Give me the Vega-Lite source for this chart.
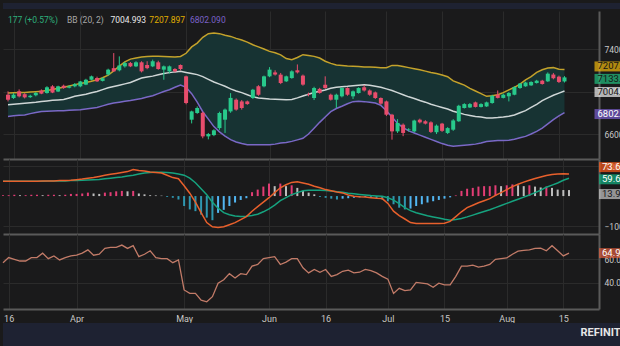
{
"$schema": "https://vega.github.io/schema/vega-lite/v6.json",
"background": "#1a1a1b",
"padding": 0,
"spacing": 0,
"config": {
  "view": {"stroke": null},
  "axis": {"labelFont": "Roboto", "labelColor": "#c8c8c8", "labelFontSize": 8.5, "gridColor": "#2b2b2b", "gridWidth": 1, "domainColor": "#5a5a5a", "tickColor": "#5a5a5a", "labelOverlap": false},
  "text": {"font": "Roboto"}
},
"datasets": {
"d": [
{"t":0,"o":6970,"h":7002,"l":6907,"c":6923,"bu":6986,"bm":6876,"bl":6766,"macd":50,"sig":50,"hist":2,"rsi":56.9},
{"t":1,"o":6939,"h":6986,"l":6930,"c":6970,"bu":6988,"bm":6880,"bl":6772,"macd":50,"sig":50,"hist":2,"rsi":61.2},
{"t":2,"o":7002,"h":7020,"l":6945,"c":6955,"bu":6990,"bm":6885,"bl":6776,"macd":50,"sig":50,"hist":3,"rsi":59.7},
{"t":3,"o":6975,"h":6985,"l":6935,"c":6945,"bu":6992,"bm":6890,"bl":6780,"macd":50,"sig":50,"hist":2,"rsi":58.3},
{"t":4,"o":6947,"h":6970,"l":6940,"c":6960,"bu":6995,"bm":6895,"bl":6792,"macd":50,"sig":50,"hist":2,"rsi":58.3},
{"t":5,"o":6965,"h":6995,"l":6955,"c":6986,"bu":6998,"bm":6900,"bl":6803,"macd":50,"sig":50,"hist":3,"rsi":61.2},
{"t":6,"o":7010,"h":7020,"l":6975,"c":6980,"bu":7002,"bm":6907,"bl":6813,"macd":50,"sig":50,"hist":3,"rsi":61.2},
{"t":7,"o":6986,"h":7050,"l":6980,"c":7040,"bu":7010,"bm":6912,"bl":6815,"macd":51,"sig":50,"hist":2,"rsi":64.9},
{"t":8,"o":7049,"h":7060,"l":6985,"c":6990,"bu":7020,"bm":6917,"bl":6817,"macd":51,"sig":51,"hist":3,"rsi":60.3},
{"t":9,"o":7000,"h":7055,"l":6995,"c":7049,"bu":7030,"bm":6921,"bl":6819,"macd":51,"sig":51,"hist":3,"rsi":62.6},
{"t":10,"o":7055,"h":7065,"l":7025,"c":7033,"bu":7040,"bm":6925,"bl":6820,"macd":52,"sig":51,"hist":2,"rsi":59.2},
{"t":11,"o":7036,"h":7058,"l":7030,"c":7049,"bu":7052,"bm":6940,"bl":6823,"macd":52,"sig":51,"hist":3,"rsi":61.2},
{"t":12,"o":7049,"h":7080,"l":7040,"c":7070,"bu":7065,"bm":6955,"bl":6826,"macd":53,"sig":52,"hist":5,"rsi":62.6},
{"t":13,"o":7049,"h":7100,"l":7040,"c":7095,"bu":7075,"bm":6965,"bl":6829,"macd":55,"sig":52,"hist":5,"rsi":63.2},
{"t":14,"o":7065,"h":7120,"l":7060,"c":7111,"bu":7085,"bm":6975,"bl":6836,"macd":57,"sig":53,"hist":6,"rsi":64.9},
{"t":15,"o":7111,"h":7150,"l":7105,"c":7143,"bu":7097,"bm":6988,"bl":6843,"macd":60,"sig":54,"hist":8,"rsi":67.7},
{"t":16,"o":7127,"h":7140,"l":7090,"c":7096,"bu":7110,"bm":7000,"bl":6850,"macd":62,"sig":55,"hist":6,"rsi":63.2},
{"t":17,"o":7100,"h":7135,"l":7095,"c":7125,"bu":7130,"bm":7018,"bl":6865,"macd":66,"sig":56,"hist":5,"rsi":64.0},
{"t":18,"o":7160,"h":7215,"l":7150,"c":7206,"bu":7155,"bm":7035,"bl":6880,"macd":70,"sig":58,"hist":8,"rsi":68.9},
{"t":19,"o":7220,"h":7362,"l":7185,"c":7190,"bu":7195,"bm":7048,"bl":6892,"macd":73,"sig":60,"hist":9,"rsi":69.7},
{"t":20,"o":7200,"h":7331,"l":7190,"c":7245,"bu":7240,"bm":7060,"bl":6900,"macd":76,"sig":62,"hist":11,"rsi":69.7},
{"t":21,"o":7237,"h":7280,"l":7225,"c":7268,"bu":7280,"bm":7072,"bl":6908,"macd":79,"sig":64,"hist":12,"rsi":71.7},
{"t":22,"o":7268,"h":7278,"l":7230,"c":7237,"bu":7305,"bm":7085,"bl":6915,"macd":82,"sig":67,"hist":11,"rsi":68.9},
{"t":23,"o":7237,"h":7285,"l":7230,"c":7275,"bu":7315,"bm":7106,"bl":6925,"macd":89,"sig":70,"hist":12,"rsi":71.2},
{"t":24,"o":7275,"h":7285,"l":7180,"c":7190,"bu":7325,"bm":7127,"bl":6935,"macd":86,"sig":74,"hist":6,"rsi":62.0},
{"t":25,"o":7250,"h":7285,"l":7210,"c":7220,"bu":7330,"bm":7136,"bl":6948,"macd":84,"sig":77,"hist":4,"rsi":64.0},
{"t":26,"o":7237,"h":7300,"l":7230,"c":7285,"bu":7331,"bm":7145,"bl":6960,"macd":81,"sig":79,"hist":2,"rsi":66.9},
{"t":27,"o":7275,"h":7290,"l":7205,"c":7212,"bu":7331,"bm":7158,"bl":6980,"macd":79,"sig":80,"hist":1.5,"rsi":61.2},
{"t":28,"o":7206,"h":7245,"l":7111,"c":7237,"bu":7330,"bm":7170,"bl":7000,"macd":77,"sig":80,"hist":1,"rsi":60.3},
{"t":29,"o":7190,"h":7245,"l":7170,"c":7237,"bu":7328,"bm":7178,"bl":7017,"macd":70,"sig":79,"hist":-2,"rsi":60.3},
{"t":30,"o":7212,"h":7220,"l":7180,"c":7190,"bu":7325,"bm":7185,"bl":7040,"macd":62,"sig":77,"hist":-4,"rsi":56.9},
{"t":31,"o":7250,"h":7255,"l":7200,"c":7212,"bu":7330,"bm":7190,"bl":7060,"macd":58,"sig":74,"hist":-8,"rsi":59.2},
{"t":32,"o":7143,"h":7150,"l":6880,"c":6892,"bu":7360,"bm":7180,"bl":7040,"macd":35,"sig":70,"hist":-23,"rsi":34.0},
{"t":33,"o":6735,"h":6820,"l":6700,"c":6813,"bu":7420,"bm":7170,"bl":6980,"macd":10,"sig":60,"hist":-31,"rsi":31.1},
{"t":34,"o":6798,"h":6860,"l":6790,"c":6845,"bu":7456,"bm":7159,"bl":6900,"macd":-20,"sig":45,"hist":-35,"rsi":31.1},
{"t":35,"o":6800,"h":6810,"l":6560,"c":6578,"bu":7510,"bm":7140,"bl":6810,"macd":-55,"sig":25,"hist":-43,"rsi":25.4},
{"t":36,"o":6578,"h":6610,"l":6550,"c":6600,"bu":7545,"bm":7115,"bl":6740,"macd":-88,"sig":5,"hist":-50,"rsi":24.0},
{"t":37,"o":6590,"h":6645,"l":6580,"c":6635,"bu":7550,"bm":7090,"bl":6670,"macd":-102,"sig":-20,"hist":-56,"rsi":28.3},
{"t":38,"o":6656,"h":6810,"l":6640,"c":6798,"bu":7545,"bm":7070,"bl":6620,"macd":-104,"sig":-40,"hist":-39,"rsi":39.7},
{"t":39,"o":6735,"h":6840,"l":6610,"c":6830,"bu":7530,"bm":7050,"bl":6580,"macd":-102,"sig":-55,"hist":-32,"rsi":42.6},
{"t":40,"o":6813,"h":6985,"l":6800,"c":6940,"bu":7519,"bm":7025,"bl":6547,"macd":-95,"sig":-62,"hist":-23,"rsi":47.7},
{"t":41,"o":6923,"h":6935,"l":6820,"c":6830,"bu":7500,"bm":7005,"bl":6525,"macd":-88,"sig":-66,"hist":-15,"rsi":44.0},
{"t":42,"o":6907,"h":6920,"l":6830,"c":6845,"bu":7485,"bm":6990,"bl":6510,"macd":-78,"sig":-68,"hist":-9,"rsi":47.7},
{"t":43,"o":6907,"h":6915,"l":6875,"c":6882,"bu":7465,"bm":6970,"bl":6500,"macd":-68,"sig":-67,"hist":-5,"rsi":46.9},
{"t":44,"o":6939,"h":7025,"l":6930,"c":7017,"bu":7440,"bm":6950,"bl":6500,"macd":-50,"sig":-64,"hist":9,"rsi":54.0},
{"t":45,"o":7049,"h":7060,"l":6960,"c":6970,"bu":7420,"bm":6940,"bl":6500,"macd":-35,"sig":-60,"hist":15,"rsi":55.4},
{"t":46,"o":7049,"h":7150,"l":7040,"c":7143,"bu":7400,"bm":6935,"bl":6500,"macd":-20,"sig":-52,"hist":22,"rsi":60.3},
{"t":47,"o":7143,"h":7230,"l":7135,"c":7206,"bu":7378,"bm":6930,"bl":6500,"macd":-5,"sig":-42,"hist":29,"rsi":61.2},
{"t":48,"o":7180,"h":7200,"l":7150,"c":7160,"bu":7365,"bm":6928,"bl":6505,"macd":12,"sig":-30,"hist":23,"rsi":62.0},
{"t":49,"o":7159,"h":7175,"l":7070,"c":7080,"bu":7345,"bm":6925,"bl":6515,"macd":28,"sig":-15,"hist":29,"rsi":55.4},
{"t":50,"o":7096,"h":7150,"l":7090,"c":7143,"bu":7310,"bm":6923,"bl":6520,"macd":38,"sig":-5,"hist":23,"rsi":57.4},
{"t":51,"o":7127,"h":7200,"l":7120,"c":7190,"bu":7300,"bm":6925,"bl":6531,"macd":46,"sig":5,"hist":25,"rsi":60.3},
{"t":52,"o":7200,"h":7255,"l":7170,"c":7180,"bu":7320,"bm":6940,"bl":6545,"macd":48,"sig":12,"hist":19,"rsi":60.3},
{"t":53,"o":7150,"h":7160,"l":7055,"c":7065,"bu":7347,"bm":6958,"bl":6560,"macd":44,"sig":18,"hist":12,"rsi":52.6},
{"t":54,"o":6975,"h":6990,"l":6955,"c":6970,"bu":7340,"bm":6975,"bl":6600,"macd":40,"sig":20,"hist":8,"rsi":48.3},
{"t":55,"o":6939,"h":7045,"l":6920,"c":7033,"bu":7331,"bm":6990,"bl":6655,"macd":33,"sig":20,"hist":4,"rsi":51.2},
{"t":56,"o":7025,"h":7035,"l":6980,"c":6986,"bu":7315,"bm":7002,"bl":6710,"macd":28,"sig":20,"hist":-2,"rsi":48.9},
{"t":57,"o":7064,"h":7143,"l":7025,"c":7033,"bu":7285,"bm":7015,"bl":6760,"macd":22,"sig":19,"hist":-4,"rsi":51.2},
{"t":58,"o":6970,"h":6980,"l":6915,"c":6923,"bu":7265,"bm":7030,"bl":6810,"macd":18,"sig":17,"hist":-6,"rsi":45.4},
{"t":59,"o":6923,"h":6980,"l":6845,"c":6970,"bu":7250,"bm":7040,"bl":6840,"macd":14,"sig":15,"hist":-8,"rsi":46.9},
{"t":60,"o":6955,"h":7040,"l":6945,"c":7033,"bu":7245,"bm":7045,"bl":6861,"macd":11,"sig":13,"hist":-6,"rsi":49.7},
{"t":61,"o":7033,"h":7040,"l":6960,"c":6970,"bu":7240,"bm":7049,"bl":6885,"macd":4,"sig":10,"hist":-5,"rsi":50.6},
{"t":62,"o":6955,"h":7010,"l":6930,"c":7002,"bu":7237,"bm":7055,"bl":6905,"macd":0,"sig":8,"hist":-4,"rsi":48.3},
{"t":63,"o":6986,"h":7040,"l":6980,"c":7033,"bu":7235,"bm":7060,"bl":6908,"macd":-2,"sig":6,"hist":-3,"rsi":48.9},
{"t":64,"o":7040,"h":7060,"l":7000,"c":7010,"bu":7232,"bm":7064,"bl":6905,"macd":-3,"sig":4,"hist":-2,"rsi":51.2},
{"t":65,"o":7010,"h":7020,"l":6960,"c":6970,"bu":7230,"bm":7060,"bl":6900,"macd":-5,"sig":2,"hist":-4,"rsi":50.3},
{"t":66,"o":6992,"h":7000,"l":6930,"c":6939,"bu":7228,"bm":7050,"bl":6892,"macd":-7,"sig":1,"hist":-6,"rsi":48.3},
{"t":67,"o":6939,"h":6945,"l":6875,"c":6886,"bu":7225,"bm":7040,"bl":6870,"macd":-8,"sig":0,"hist":-8,"rsi":45.4},
{"t":68,"o":6907,"h":6915,"l":6770,"c":6782,"bu":7225,"bm":7025,"bl":6820,"macd":-24,"sig":-5,"hist":-12,"rsi":43.1},
{"t":69,"o":6782,"h":6790,"l":6547,"c":6625,"bu":7246,"bm":7010,"bl":6760,"macd":-50,"sig":-13,"hist":-19,"rsi":31.1},
{"t":70,"o":6625,"h":6740,"l":6610,"c":6704,"bu":7245,"bm":6990,"bl":6700,"macd":-65,"sig":-25,"hist":-27,"rsi":35.4},
{"t":71,"o":6688,"h":6700,"l":6580,"c":6610,"bu":7235,"bm":6970,"bl":6660,"macd":-76,"sig":-38,"hist":-31,"rsi":33.4},
{"t":72,"o":6640,"h":6655,"l":6625,"c":6645,"bu":7225,"bm":6950,"bl":6630,"macd":-88,"sig":-48,"hist":-29,"rsi":34.0},
{"t":73,"o":6625,"h":6735,"l":6615,"c":6727,"bu":7215,"bm":6935,"bl":6610,"macd":-91,"sig":-55,"hist":-23,"rsi":40.3},
{"t":74,"o":6735,"h":6745,"l":6700,"c":6710,"bu":7205,"bm":6915,"bl":6590,"macd":-91,"sig":-60,"hist":-19,"rsi":39.7},
{"t":75,"o":6720,"h":6730,"l":6690,"c":6698,"bu":7192,"bm":6900,"bl":6570,"macd":-91,"sig":-65,"hist":-15,"rsi":39.1},
{"t":76,"o":6710,"h":6720,"l":6610,"c":6620,"bu":7180,"bm":6880,"bl":6550,"macd":-91,"sig":-69,"hist":-12,"rsi":36.3},
{"t":77,"o":6617,"h":6690,"l":6600,"c":6679,"bu":7170,"bm":6865,"bl":6530,"macd":-91,"sig":-73,"hist":-9,"rsi":39.7},
{"t":78,"o":6698,"h":6705,"l":6620,"c":6630,"bu":7155,"bm":6850,"bl":6510,"macd":-90,"sig":-77,"hist":-6,"rsi":38.3},
{"t":79,"o":6610,"h":6665,"l":6600,"c":6656,"bu":7140,"bm":6835,"bl":6495,"macd":-84,"sig":-80,"hist":-3,"rsi":38.3},
{"t":80,"o":6641,"h":6740,"l":6630,"c":6728,"bu":7100,"bm":6815,"bl":6485,"macd":-68,"sig":-78,"hist":1.5,"rsi":45.4},
{"t":81,"o":6720,"h":6875,"l":6715,"c":6866,"bu":7080,"bm":6800,"bl":6490,"macd":-52,"sig":-74,"hist":12,"rsi":54.0},
{"t":82,"o":6845,"h":6890,"l":6840,"c":6882,"bu":7060,"bm":6785,"bl":6495,"macd":-38,"sig":-69,"hist":17,"rsi":54.0},
{"t":83,"o":6850,"h":6892,"l":6845,"c":6882,"bu":7030,"bm":6775,"bl":6500,"macd":-30,"sig":-63,"hist":19,"rsi":54.9},
{"t":84,"o":6898,"h":6905,"l":6850,"c":6855,"bu":7005,"bm":6765,"bl":6505,"macd":-22,"sig":-57,"hist":22,"rsi":53.2},
{"t":85,"o":6855,"h":6890,"l":6850,"c":6882,"bu":6980,"bm":6760,"bl":6515,"macd":-15,"sig":-51,"hist":23,"rsi":54.0},
{"t":86,"o":6860,"h":6905,"l":6855,"c":6898,"bu":6955,"bm":6752,"bl":6530,"macd":-8,"sig":-45,"hist":23,"rsi":55.4},
{"t":87,"o":6892,"h":6970,"l":6885,"c":6960,"bu":6960,"bm":6752,"bl":6535,"macd":3,"sig":-38,"hist":25,"rsi":59.7},
{"t":88,"o":6970,"h":7010,"l":6935,"c":6940,"bu":6970,"bm":6755,"bl":6540,"macd":12,"sig":-31,"hist":23,"rsi":60.3},
{"t":89,"o":6940,"h":6980,"l":6935,"c":6970,"bu":6990,"bm":6760,"bl":6540,"macd":22,"sig":-24,"hist":25,"rsi":60.9},
{"t":90,"o":6955,"h":6995,"l":6907,"c":6986,"bu":7015,"bm":6768,"bl":6542,"macd":32,"sig":-17,"hist":27,"rsi":64.0},
{"t":91,"o":6970,"h":7050,"l":6965,"c":7042,"bu":7040,"bm":6780,"bl":6550,"macd":40,"sig":-10,"hist":25,"rsi":66.6},
{"t":92,"o":7033,"h":7080,"l":7025,"c":7075,"bu":7070,"bm":6800,"bl":6565,"macd":47,"sig":-3,"hist":23,"rsi":67.2},
{"t":93,"o":7049,"h":7092,"l":7045,"c":7085,"bu":7110,"bm":6820,"bl":6578,"macd":53,"sig":4,"hist":25,"rsi":67.7},
{"t":94,"o":7058,"h":7097,"l":7053,"c":7090,"bu":7140,"bm":6850,"bl":6600,"macd":59,"sig":12,"hist":22,"rsi":68.9},
{"t":95,"o":7080,"h":7110,"l":7075,"c":7102,"bu":7180,"bm":6880,"bl":6625,"macd":64,"sig":20,"hist":20,"rsi":69.2},
{"t":96,"o":7102,"h":7110,"l":7065,"c":7071,"bu":7205,"bm":6915,"bl":6655,"macd":69,"sig":30,"hist":22,"rsi":66.9},
{"t":97,"o":7096,"h":7180,"l":7090,"c":7168,"bu":7222,"bm":6940,"bl":6695,"macd":72,"sig":37,"hist":19,"rsi":71.2},
{"t":98,"o":7160,"h":7175,"l":7115,"c":7125,"bu":7225,"bm":6965,"bl":6735,"macd":74,"sig":44,"hist":15,"rsi":66.9},
{"t":99,"o":7140,"h":7150,"l":7080,"c":7090,"bu":7210,"bm":6985,"bl":6770,"macd":75,"sig":53,"hist":14,"rsi":62.6},
{"t":100,"o":7095,"h":7145,"l":7085,"c":7133.177,"bu":7207.897,"bm":7004.993,"bl":6802.09,"macd":73.62,"sig":59.68,"hist":13.94,"rsi":64.94}
]
},
"vconcat": [
{
  "width": 640, "height": 6,
  "view": {"fill": "#1e2232", "stroke": null},
  "data": {"values": [{}]},
  "mark": {"type": "text", "text": ""}
},
{
  "width": 596, "height": 148,
  "data": {"name": "d"},
  "encoding": {
    "x": {"field": "t", "type": "quantitative", "title": null,
      "scale": {"domain": [0, 105.3], "nice": false, "zero": false},
      "axis": {"values": [1,13,32,47,57,68,78,89,99], "labels": false, "ticks": false, "grid": true, "domain": true, "domainWidth": 2}}
  },
  "layer": [
    {"mark": {"type": "area", "color": "#173333"},
     "encoding": {"y": {"field": "bl", "type": "quantitative", "title": null,
        "scale": {"domain": [6365, 7758], "nice": false, "zero": false},
        "axis": {"orient": "right", "values": [6600,6800,7000,7200,7400], "format": "d", "ticks": false, "labelPadding": 5, "domain": true, "domainWidth": 2, "grid": true}},
       "y2": {"field": "bu"}}},
    {"mark": {"type": "line", "color": "#c4a22b", "strokeWidth": 1.5}, "encoding": {"y": {"field": "bu", "type": "quantitative", "title": null}}},
    {"mark": {"type": "line", "color": "#cfd6d6", "strokeWidth": 1.5}, "encoding": {"y": {"field": "bm", "type": "quantitative", "title": null}}},
    {"mark": {"type": "line", "color": "#7a68c6", "strokeWidth": 1.5}, "encoding": {"y": {"field": "bl", "type": "quantitative", "title": null}}},
    {"mark": {"type": "rule", "strokeWidth": 1},
     "encoding": {"y": {"field": "l", "type": "quantitative", "title": null}, "y2": {"field": "h"},
       "color": {"condition": {"test": "datum.c >= datum.o", "value": "#28c98b"}, "value": "#e84d6c"}}},
    {"mark": {"type": "bar", "width": 4},
     "encoding": {"y": {"field": "o", "type": "quantitative", "title": null}, "y2": {"field": "c"},
       "color": {"condition": {"test": "datum.c >= datum.o", "value": "#28c98b"}, "value": "#e84d6c"}}},

    {"transform": [{"filter": "datum.t == 100"}], "mark": {"type": "tick", "orient": "horizontal", "size": 30, "thickness": 10, "color": "#7c5fd1", "xOffset": 45, "yOffset": 1.5},
     "encoding": {"y": {"field": "bl", "type": "quantitative", "title": null}}},
    {"transform": [{"filter": "datum.t == 100"}], "mark": {"type": "text", "align": "left", "baseline": "middle", "fontSize": 9.5, "color": "#ffffff", "xOffset": 33, "yOffset": 1.5},
     "encoding": {"y": {"field": "bl", "type": "quantitative", "title": null}, "text": {"field": "bl", "type": "quantitative", "format": ".3f"}}},
    {"transform": [{"filter": "datum.t == 100"}], "mark": {"type": "tick", "orient": "horizontal", "size": 30, "thickness": 10, "color": "#f4f4f4", "xOffset": 45, "yOffset": 1},
     "encoding": {"y": {"field": "bm", "type": "quantitative", "title": null}}},
    {"transform": [{"filter": "datum.t == 100"}], "mark": {"type": "text", "align": "left", "baseline": "middle", "fontSize": 9.5, "color": "#151515", "xOffset": 33, "yOffset": 1},
     "encoding": {"y": {"field": "bm", "type": "quantitative", "title": null}, "text": {"field": "bm", "type": "quantitative", "format": ".3f"}}},
    {"transform": [{"filter": "datum.t == 100"}], "mark": {"type": "tick", "orient": "horizontal", "size": 30, "thickness": 10, "color": "#f2b90c", "xOffset": 45, "yOffset": -3},
     "encoding": {"y": {"field": "bu", "type": "quantitative", "title": null}}},
    {"transform": [{"filter": "datum.t == 100"}], "mark": {"type": "text", "align": "left", "baseline": "middle", "fontSize": 9.5, "color": "#151515", "xOffset": 33, "yOffset": -3},
     "encoding": {"y": {"field": "bu", "type": "quantitative", "title": null}, "text": {"field": "bu", "type": "quantitative", "format": ".3f"}}},
    {"transform": [{"filter": "datum.t == 100"}], "mark": {"type": "tick", "orient": "horizontal", "size": 30, "thickness": 10, "color": "#22c07f", "xOffset": 45, "yOffset": 1.5},
     "encoding": {"y": {"field": "c", "type": "quantitative", "title": null}}},
    {"transform": [{"filter": "datum.t == 100"}], "mark": {"type": "text", "align": "left", "baseline": "middle", "fontSize": 9.5, "color": "#151515", "xOffset": 33, "yOffset": 1.5},
     "encoding": {"y": {"field": "c", "type": "quantitative", "title": null}, "text": {"field": "c", "type": "quantitative", "format": ".3f"}}},

    {"transform": [{"filter": "datum.t == 100"}], "mark": {"type": "text", "align": "left", "baseline": "middle", "fontSize": 8.5, "color": "#2db07c"},
     "encoding": {"x": {"datum": 0, "type": "quantitative"}, "y": {"datum": 7673, "type": "quantitative"}, "text": {"value": "177 (+0.57%)"}}},
    {"transform": [{"filter": "datum.t == 100"}], "mark": {"type": "text", "align": "left", "baseline": "middle", "fontSize": 8.5, "color": "#a8a8a8"},
     "encoding": {"x": {"datum": 10.6, "type": "quantitative"}, "y": {"datum": 7673, "type": "quantitative"}, "text": {"value": "BB (20, 2)"}}},
    {"transform": [{"filter": "datum.t == 100"}], "mark": {"type": "text", "align": "left", "baseline": "middle", "fontSize": 8.5, "color": "#e8e8e8"},
     "encoding": {"x": {"datum": 18.4, "type": "quantitative"}, "y": {"datum": 7673, "type": "quantitative"}, "text": {"field": "bm", "type": "quantitative", "format": ".3f"}}},
    {"transform": [{"filter": "datum.t == 100"}], "mark": {"type": "text", "align": "left", "baseline": "middle", "fontSize": 8.5, "color": "#e0b000"},
     "encoding": {"x": {"datum": 25.4, "type": "quantitative"}, "y": {"datum": 7673, "type": "quantitative"}, "text": {"field": "bu", "type": "quantitative", "format": ".3f"}}},
    {"transform": [{"filter": "datum.t == 100"}], "mark": {"type": "text", "align": "left", "baseline": "middle", "fontSize": 8.5, "color": "#7a62c8"},
     "encoding": {"x": {"datum": 32.7, "type": "quantitative"}, "y": {"datum": 7673, "type": "quantitative"}, "text": {"field": "bl", "type": "quantitative", "format": ".3f"}}}
  ]
},
{
  "width": 596, "height": 75,
  "data": {"name": "d"},
  "encoding": {
    "x": {"field": "t", "type": "quantitative", "title": null,
      "scale": {"domain": [0, 105.3], "nice": false, "zero": false},
      "axis": {"values": [1,13,32,47,57,68,78,89,99], "labels": false, "ticks": false, "grid": true, "domain": true, "domainWidth": 2}}
  },
  "layer": [
    {"transform": [{"window": [{"op": "lag", "field": "hist", "as": "hp"}], "sort": [{"field": "t"}]}],
     "mark": {"type": "rule", "strokeWidth": 2},
     "encoding": {"y": {"field": "hist", "type": "quantitative", "title": null, "scale": {"domain": [-88, 86], "nice": false, "zero": false}, "axis": null},
       "y2": {"datum": 0},
       "color": {"condition": [
          {"test": "datum.hist >= 0 && (datum.hp == null || datum.hist >= datum.hp)", "value": "#e23d75"},
          {"test": "datum.hist >= 0", "value": "#bdbdbd"},
          {"test": "datum.hist < datum.hp", "value": "#2f97b0"}],
         "value": "#52b6f2"}}},
    {"mark": {"type": "line", "color": "#16a37f", "strokeWidth": 1.5},
     "encoding": {"y": {"field": "sig", "type": "quantitative", "title": null, "scale": {"domain": [-126, 124], "nice": false, "zero": false},
       "axis": {"orient": "right", "values": [-100, 100], "ticks": false, "labelPadding": 5, "domain": true, "domainWidth": 2, "grid": true}}}},
    {"mark": {"type": "line", "color": "#e8602c", "strokeWidth": 1.5},
     "encoding": {"y": {"field": "macd", "type": "quantitative", "title": null, "scale": {"domain": [-126, 124], "nice": false, "zero": false}, "axis": null}}},

    {"transform": [{"filter": "datum.t == 100"}], "mark": {"type": "tick", "orient": "horizontal", "size": 30, "thickness": 10, "color": "#c9c9c9", "xOffset": 45, "yOffset": 4},
     "encoding": {"y": {"field": "hist", "type": "quantitative", "title": null, "scale": {"domain": [-88, 86], "nice": false, "zero": false}, "axis": null}}},
    {"transform": [{"filter": "datum.t == 100"}], "mark": {"type": "text", "align": "left", "baseline": "middle", "fontSize": 9.5, "color": "#151515", "xOffset": 33, "yOffset": 4},
     "encoding": {"y": {"field": "hist", "type": "quantitative", "title": null, "scale": {"domain": [-88, 86], "nice": false, "zero": false}, "axis": null}, "text": {"field": "hist", "type": "quantitative", "format": ".2f"}}},
    {"transform": [{"filter": "datum.t == 100"}], "mark": {"type": "tick", "orient": "horizontal", "size": 30, "thickness": 10, "color": "#14b482", "xOffset": 45, "yOffset": 1},
     "encoding": {"y": {"field": "sig", "type": "quantitative", "title": null, "scale": {"domain": [-126, 124], "nice": false, "zero": false}, "axis": null}}},
    {"transform": [{"filter": "datum.t == 100"}], "mark": {"type": "text", "align": "left", "baseline": "middle", "fontSize": 9.5, "color": "#ffffff", "xOffset": 33, "yOffset": 1},
     "encoding": {"y": {"field": "sig", "type": "quantitative", "title": null, "scale": {"domain": [-126, 124], "nice": false, "zero": false}, "axis": null}, "text": {"field": "sig", "type": "quantitative", "format": ".2f"}}},
    {"transform": [{"filter": "datum.t == 100"}], "mark": {"type": "tick", "orient": "horizontal", "size": 30, "thickness": 10, "color": "#ff5b1a", "xOffset": 45, "yOffset": -7},
     "encoding": {"y": {"field": "macd", "type": "quantitative", "title": null, "scale": {"domain": [-126, 124], "nice": false, "zero": false}, "axis": null}}},
    {"transform": [{"filter": "datum.t == 100"}], "mark": {"type": "text", "align": "left", "baseline": "middle", "fontSize": 9.5, "color": "#ffffff", "xOffset": 33, "yOffset": -7},
     "encoding": {"y": {"field": "macd", "type": "quantitative", "title": null, "scale": {"domain": [-126, 124], "nice": false, "zero": false}, "axis": null}, "text": {"field": "macd", "type": "quantitative", "format": ".2f"}}}
  ],
  "resolve": {"scale": {"y": "independent"}}
},
{
  "width": 596, "height": 75,
  "data": {"name": "d"},
  "encoding": {
    "x": {"field": "t", "type": "quantitative", "title": null,
      "scale": {"domain": [0, 105.3], "nice": false, "zero": false},
      "axis": {"values": [1,13,32,47,57,68,78,89,99], "labels": true, "ticks": false, "grid": true, "domain": true, "domainWidth": 2, "labelPadding": 5, "labelFontSize": 9,
        "labelExpr": "datum.value==13?'Apr':datum.value==32?'May':datum.value==47?'Jun':datum.value==68?'Jul':datum.value==89?'Aug':(datum.value==1||datum.value==57)?'16':'15'"}}
  },
  "layer": [
    {"data": {"values": [{}]}, "mark": {"type": "rect", "color": "#3a3a42", "opacity": 0.55},
     "encoding": {"x": {"datum": 0}, "x2": {"datum": 105.3},
       "y": {"datum": 30, "type": "quantitative", "title": null, "scale": {"domain": [18, 81], "nice": false, "zero": false},
         "axis": {"orient": "right", "values": [40, 60], "format": ".2f", "ticks": false, "labelPadding": 5, "domain": true, "domainWidth": 2, "grid": true}},
       "y2": {"datum": 70}}},
    {"data": {"values": [{"v": 30}, {"v": 70}]}, "mark": {"type": "rule", "color": "#8a8a8a", "strokeDash": [4, 3], "strokeWidth": 1},
     "encoding": {"y": {"field": "v", "type": "quantitative", "title": null}}},
    {"mark": {"type": "line", "color": "#c27b68", "strokeWidth": 1.3},
     "encoding": {"y": {"field": "rsi", "type": "quantitative", "title": null}}},
    {"transform": [{"filter": "datum.t == 100"}], "mark": {"type": "tick", "orient": "horizontal", "size": 30, "thickness": 10, "color": "#e2603f", "xOffset": 45},
     "encoding": {"y": {"field": "rsi", "type": "quantitative", "title": null}}},
    {"transform": [{"filter": "datum.t == 100"}], "mark": {"type": "text", "align": "left", "baseline": "middle", "fontSize": 9.5, "color": "#ffffff", "xOffset": 33},
     "encoding": {"y": {"field": "rsi", "type": "quantitative", "title": null}, "text": {"field": "rsi", "type": "quantitative", "format": ".2f"}}}
  ]
},
{
  "width": 640, "height": 24,
  "view": {"fill": "#1e2232", "stroke": null},
  "data": {"values": [{}]},
  "mark": {"type": "text", "text": "REFINITIV", "font": "Roboto", "fontWeight": "bold", "fontSize": 11, "color": "#e6e6e6", "align": "right", "baseline": "middle", "dx": -12, "dy": -2},
  "encoding": {"x": {"value": "width"}}
}
]
}
